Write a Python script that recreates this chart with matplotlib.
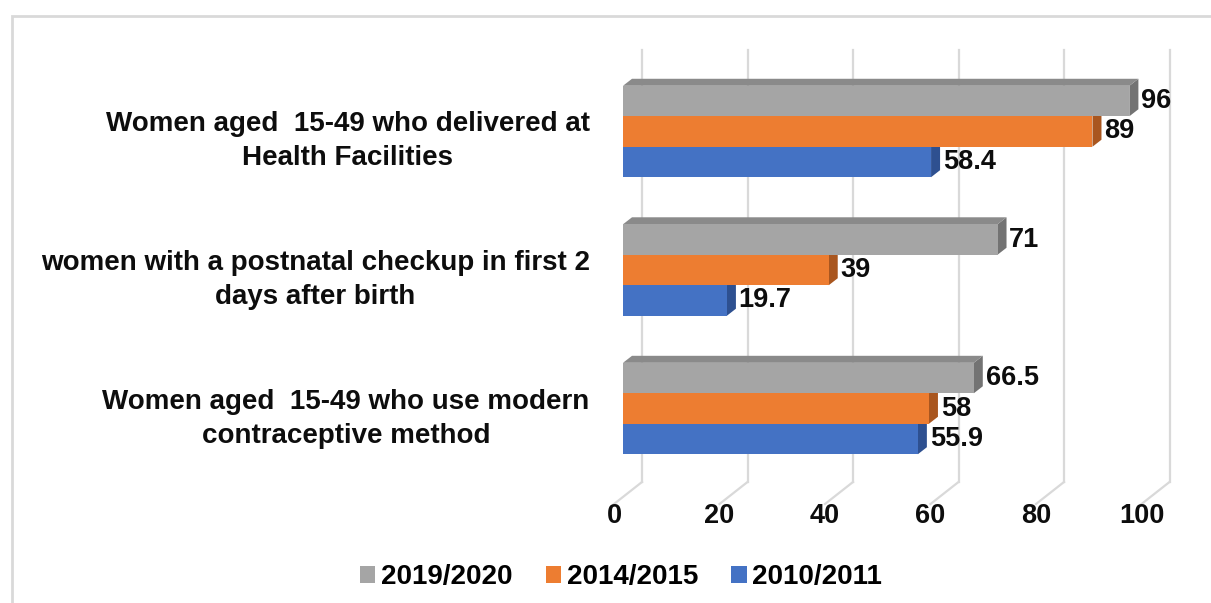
import matplotlib
matplotlib.use('Agg')
import matplotlib.pyplot as plt
from matplotlib.patches import Polygon, Patch, Rectangle
from matplotlib.transforms import ScaledTranslation

plt.rcParams['font.family'] = ['Liberation Sans', 'DejaVu Sans']
plt.rcParams['font.weight'] = 'bold'

# categories from bottom to top
categories = [
    'Women aged  15-49 who use modern\ncontraceptive method',
    'women with a postnatal checkup in first 2\ndays after birth',
    'Women aged  15-49 who delivered at\nHealth Facilities',
]
years = ['2019/2020', '2014/2015', '2010/2011']
vals_2019 = [66.5, 71, 96]
vals_2014 = [58, 39, 89]
vals_2010 = [55.9, 19.7, 58.4]

front_cols = ['#a5a5a5', '#ed7d31', '#4472c4']
side_cols = ['#737373', '#a9561f', '#2e5090']
top_cols = ['#8a8a8a', '#c4672a', '#3a62a8']

W, H = 1211, 603
fig = plt.figure(figsize=(W / 100, H / 100), dpi=100)

# axes placement in pixels
ax_l, ax_t, ax_w, ax_h = 623, 55.3, 527.5, 429.4
ax = fig.add_axes([ax_l / W, 1 - (ax_t + ax_h) / H, ax_w / W, ax_h / H])
ax.set_xlim(0, 100)
ax.set_ylim(-0.55, 2.55)
ax.patch.set_visible(False)
for s in ax.spines.values():
    s.set_visible(False)

kx = 100 / ax_w     # data units per pixel
ky = 3.1 / ax_h

# fake 3D wall and floor grid
ticks = list(range(0, 101, 20))
yb = -0.55 - 12.3 * ky
wall_top = 2.55 + 5.3 * ky
WX, WY = 19 * kx, 15 * ky
FX, FY = -9 * kx, -7 * ky
for t in ticks:
    ax.plot([t + WX, t + WX], [yb + WY, wall_top], color='#d9d9d9', lw=1.6,
            zorder=0.5, clip_on=False)
    ax.plot([t + WX, t + FX], [yb + WY, yb + FY], color='#d9d9d9', lw=1.6,
            zorder=0.5, clip_on=False)

# bars: blue first, gray last so upper bars cover the depth faces
h = 0.22
DX, DY = 9 * kx, 7 * ky
series = [vals_2019, vals_2014, vals_2010]
offsets = [h, 0, -h]
for k in [2, 1, 0]:
    for i, v in enumerate(series[k]):
        y0 = i + offsets[k] - h / 2
        y1 = y0 + h
        z = 2 + (2 - k)
        side = Polygon([(v, y0), (v + DX, y0 + DY), (v + DX, y1 + DY), (v, y1)],
                       closed=True, facecolor=side_cols[k], edgecolor='none', zorder=z)
        top = Polygon([(0, y1), (DX, y1 + DY), (v + DX, y1 + DY), (v, y1)],
                      closed=True, facecolor=top_cols[k], edgecolor='none', zorder=z)
        ax.add_patch(side)
        ax.add_patch(top)
        ax.barh(i + offsets[k], v, height=h, color=front_cols[k], zorder=z + 0.1)
        ax.annotate(f'{v:g}', xy=(v, i + offsets[k]), xytext=(8.5, 0),
                    textcoords='offset points', ha='left', va='center',
                    fontsize=19.5, fontweight='bold', color='#0d0d0d', zorder=10)

ax.set_xticks(ticks)
ax.set_xticklabels([str(t) for t in ticks], fontsize=19.5, fontweight='bold',
                   color='#0d0d0d')
ax.tick_params(axis='x', length=0, pad=13)
for lab in ax.get_xticklabels():
    lab.set_transform(lab.get_transform() + ScaledTranslation(-0.09, 0, fig.dpi_scale_trans))

ax.set_yticks([0, 1, 2])
ax.set_yticklabels(categories, fontsize=20, fontweight='bold', color='#0d0d0d',
                   linespacing=1.4)
ax.tick_params(axis='y', length=0, pad=24)
for lab in ax.get_yticklabels():
    lab.set_multialignment('center')
    lab.set_transform(lab.get_transform() + ScaledTranslation(0, -0.03, fig.dpi_scale_trans))

handles = [Patch(facecolor=c, edgecolor='none') for c in front_cols]
fig.legend(handles, years, loc='center', bbox_to_anchor=(621 / W, 1 - 577 / H),
           ncol=3, frameon=False, handlelength=0.55, handleheight=0.55,
           handletextpad=0.2, columnspacing=1.2,
           prop={'size': 20, 'weight': 'bold'})

# chart frame
fig.add_artist(Rectangle((12 / W, -0.2), 1.2, 1.2 - 16 / H, transform=fig.transFigure,
                         fill=False, edgecolor='#d9d9d9', lw=2))

fig.savefig('out.png', dpi=100)
